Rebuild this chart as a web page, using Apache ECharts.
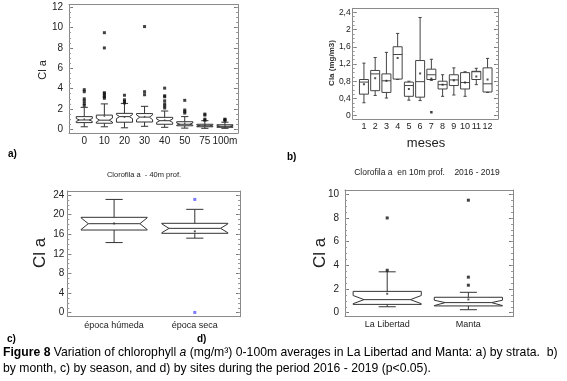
<!DOCTYPE html>
<html><head><meta charset="utf-8">
<script src="https://cdn.jsdelivr.net/npm/echarts@6/dist/echarts.min.js"></script>
<style>html,body{margin:0;padding:0;background:#fff}#c{width:567px;height:381px}</style>
</head><body><div id="c"></div><script>
const FONT = '"Liberation Sans", Arial, sans-serif';

// ---------- Panel a: by strata ----------
const aCategories = ['0', '10', '20', '30', '40', '50', '75', '100m'];
const aYTicks = [0, 2, 4, 6, 8, 10, 12];
const aMin = [0.25, 0.25, 0.15, 0.3, 0.2, 0.12, 0.1, 0.1];
const aQ1 = [0.66, 0.6, 0.7, 0.72, 0.5, 0.35, 0.25, 0.2];
const aMedian = [0.92, 0.9, 1.25, 1.2, 0.85, 0.5, 0.35, 0.3];
const aQ3 = [1.25, 1.4, 1.57, 1.55, 1.18, 0.75, 0.5, 0.45];
const aMax = [2.16, 2.5, 2.55, 2.26, 1.8, 1.25, 0.85, 0.7];
const aNotchLow = [0.78, 0.72, 1.05, 0.95, 0.68, 0.42, 0.3, 0.25];
const aNotchHigh = [1.06, 1.1, 1.45, 1.42, 1.02, 0.62, 0.42, 0.38];
const aMean = [1.0, 1.3, 1.2, 1.25, 0.9, 0.6, 0.4, 0.32];
const aOutliers = [
  [3.9, 3.7, 3.0, 2.8, 2.55, 2.35],
  [9.5, 8.0, 3.6, 3.5, 3.3, 3.2, 3.05],
  [3.35, 2.9, 2.75, 2.6],
  [10.1, 3.7, 3.4],
  [4.05, 3.3, 3.2, 2.8, 2.5, 2.3, 2.1],
  [2.85, 1.9, 1.75, 1.6],
  [1.5, 1.4, 1.0, 0.9],
  [1.0, 0.95, 0.85]
];

// ---------- Panel b: by month ----------
const bMonths = [1, 2, 3, 4, 5, 6, 7, 8, 9, 10, 11, 12];
const bYTicks = [0, 0.4, 0.8, 1.2, 1.6, 2, 2.4];
const bMin = [0.3, 0.47, 0.41, 0.84, 0.36, 0.35, 0.82, 0.45, 0.48, 0.45, 0.72, 0.54];
const bQ1 = [0.5, 0.58, 0.54, 0.85, 0.45, 0.43, 0.84, 0.62, 0.7, 0.62, 0.84, 0.55];
const bMedian = [0.78, 0.97, 0.81, 1.42, 0.7, 0.79, 0.95, 0.72, 0.83, 0.77, 1.02, 0.74];
const bQ3 = [0.84, 1.05, 0.97, 1.6, 0.78, 1.28, 1.08, 0.8, 0.95, 1.0, 1.03, 1.11];
const bMax = [1.22, 1.35, 1.47, 1.91, 0.8, 2.28, 1.31, 0.95, 1.11, 1.02, 1.1, 1.33];
const bMean = [0.73, 0.87, 0.81, 1.34, 0.62, 0.98, 0.86, 0.72, 0.82, 0.77, 0.91, 0.84];
const bOutlierMonths = [7];
const bOutlierValues = [0.08];

// ---------- Panel c: by season ----------
const cCategories = ['época húmeda', 'época seca'];
const cYTicks = [0, 4, 8, 12, 16, 20, 24];
const cMin = [14.3, 15.2];
const cQ1 = [16.86, 16.19];
const cMedian = [18.15, 17.2];
const cQ3 = [19.45, 18.23];
const cMax = [23.1, 21.08];
const cNotchLow = [16.95, 16.3];
const cNotchHigh = [19.35, 18.12];
const cMean = [18.2, 16.6];
const cOutliers = [[], [23.1, 0.05]];

// ---------- Panel d: by site ----------
const dCategories = ['La Libertad', 'Manta'];
const dYTicks = [0, 2, 4, 6, 8, 10];
const dMin = [0.5, 0.25];
const dQ1 = [0.7, 0.57];
const dMedian = [1.1, 0.85];
const dQ3 = [1.8, 1.3];
const dMax = [3.45, 1.72];
const dNotchLow = [0.76, 0.6];
const dNotchHigh = [1.45, 1.05];
const dMean = [1.6, 1.12];
const dOutliers = [[8.0, 3.58], [9.5, 3.0, 2.32]];

// ---------- helpers ----------
function boxRows(xs, mn, q1, md, q3, mx, nl, nh) {
  return xs.map((x, i) => [x, mn[i], q1[i], md[i], q3[i], mx[i], nl ? nl[i] : md[i], nh ? nh[i] : md[i]]);
}
function pointRows(xs, lists) {
  const out = [];
  lists.forEach((l, i) => l.forEach(v => out.push([xs[i], v])));
  return out;
}
function boxRenderer(cfg) {
  return function (params, api) {
    const x = api.value(0);
    const vMin = api.value(1), q1 = api.value(2), med = api.value(3), q3 = api.value(4), vMax = api.value(5);
    const nLo = api.value(6), nHi = api.value(7);
    const L = api.coord([x - cfg.half, med])[0];
    const R = api.coord([x + cfg.half, med])[0];
    const C = api.coord([x, med])[0];
    const y = v => api.coord([x, v])[1];
    const ind = (R - L) * cfg.indent;
    const capHalf = (R - L) * cfg.cap / 2;
    const pts = cfg.notch
      ? [[L, y(q3)], [R, y(q3)], [R, y(nHi)], [R - ind, y(med)], [R, y(nLo)], [R, y(q1)], [L, y(q1)], [L, y(nLo)], [L + ind, y(med)], [L, y(nHi)]]
      : [[L, y(q3)], [R, y(q3)], [R, y(q1)], [L, y(q1)]];
    const st = { stroke: cfg.color, lineWidth: 1, fill: 'none' };
    return {
      type: 'group',
      children: [
        { type: 'polygon', shape: { points: pts }, style: st },
        { type: 'line', shape: { x1: cfg.notch ? L + ind : L, y1: y(med), x2: cfg.notch ? R - ind : R, y2: y(med) }, style: st },
        { type: 'line', shape: { x1: C, y1: y(q3), x2: C, y2: y(vMax) }, style: st },
        { type: 'line', shape: { x1: C, y1: y(q1), x2: C, y2: y(vMin) }, style: st },
        { type: 'line', shape: { x1: C - capHalf, y1: y(vMax), x2: C + capHalf, y2: y(vMax) }, style: st },
        { type: 'line', shape: { x1: C - capHalf, y1: y(vMin), x2: C + capHalf, y2: y(vMin) }, style: st }
      ]
    };
  };
}
function minorList(lo, hi, step) {
  const r = [];
  for (let v = lo; v <= hi + 1e-9; v += step) r.push(+v.toFixed(4));
  return r;
}

const FRAME = { show: true, onZero: false, lineStyle: { color: '#8a8a8a', width: 1 } };
const NOFRAME = { show: false, onZero: false };

const grids = [
  { left: 69, top: 4.5, width: 169, height: 128.5 },
  { left: 352.7, top: 8.3, width: 145.3, height: 110.7 },
  { left: 67.3, top: 191, width: 172.7, height: 125.7 },
  { left: 345, top: 190, width: 168, height: 126.7 }
];

const yRanges = [[-0.36, 12.27], [-0.077, 2.493], [-0.82, 24.82], [-0.34, 10.36]];
const yTicks = [aYTicks, bYTicks, cYTicks, dYTicks];
const yMinorSteps = [0.5, 0.1, 1, 0.5];
const yLabelFmt = [v => String(v), v => String(v).replace('.', ','), v => String(v), v => String(v)];
const yLabelSize = [10, 8.5, 10, 10];
const yLabelMargin = [6, 2, 3, 6];

const yAxes = [];
for (let g = 0; g < 4; g++) {
  const base = { type: 'value', gridIndex: g, min: yRanges[g][0], max: yRanges[g][1], splitLine: { show: false } };
  const minors = minorList(0, yTicks[g][yTicks[g].length - 1], yMinorSteps[g]);
  yAxes.push(Object.assign({}, base, {
    position: 'left', axisLine: FRAME,
    axisTick: { show: true, inside: true, length: 4, customValues: yTicks[g], lineStyle: { color: '#777' } },
    axisLabel: { show: true, customValues: yTicks[g], formatter: yLabelFmt[g], fontSize: yLabelSize[g], fontFamily: FONT, color: '#222', margin: yLabelMargin[g] }
  }));
  yAxes.push(Object.assign({}, base, {
    position: 'right', axisLine: FRAME,
    axisTick: { show: true, inside: true, length: 4, customValues: yTicks[g], lineStyle: { color: '#777' } },
    axisLabel: { show: false }
  }));
  yAxes.push(Object.assign({}, base, {
    position: 'left', axisLine: NOFRAME,
    axisTick: { show: true, inside: true, length: 2, customValues: minors, lineStyle: { color: '#999' } },
    axisLabel: { show: false }
  }));
  yAxes.push(Object.assign({}, base, {
    position: 'right', axisLine: NOFRAME,
    axisTick: { show: true, inside: true, length: 2, customValues: minors, lineStyle: { color: '#999' } },
    axisLabel: { show: false }
  }));
}

const aIdx = aCategories.map((c, i) => i);
const cIdx = [1, 2];
const dIdx = [1, 2];
const xDefs = [
  { gridIndex: 0, min: -0.76, max: 7.65, custom: aIdx, fmt: v => aCategories[Math.round(v)], size: 10, margin: 3 },
  { gridIndex: 1, min: 0, max: 12.93, custom: bMonths, fmt: v => String(v), size: 9, margin: 3 },
  { gridIndex: 2, min: 0.42, max: 2.56, custom: cIdx, fmt: v => cCategories[Math.round(v) - 1], size: 9, margin: 4 },
  { gridIndex: 3, min: 0.48, max: 2.55, custom: dIdx, fmt: v => dCategories[Math.round(v) - 1], size: 9, margin: 3 }
];
const xAxes = [];
xDefs.forEach(a => {
  xAxes.push({
    type: 'value', gridIndex: a.gridIndex, min: a.min, max: a.max, position: 'bottom',
    splitLine: { show: false }, axisLine: FRAME, axisTick: { show: false },
    axisLabel: { customValues: a.custom, formatter: a.fmt, fontSize: a.size, fontFamily: FONT, color: '#222', margin: a.margin }
  });
});
xDefs.forEach(a => {
  xAxes.push({
    type: 'value', gridIndex: a.gridIndex, min: a.min, max: a.max, position: 'top',
    splitLine: { show: false }, axisLine: FRAME, axisTick: { show: false }, axisLabel: { show: false }
  });
});

function boxSeries(g, rows, cfg) {
  return {
    type: 'custom', xAxisIndex: g, yAxisIndex: g * 4, data: rows,
    encode: { x: 0, y: [1, 2, 3, 4, 5] }, renderItem: boxRenderer(cfg), silent: true, z: 2
  };
}
function dotSeries(g, rows, size, color, z) {
  return {
    type: 'scatter', xAxisIndex: g, yAxisIndex: g * 4, data: rows, symbol: 'rect', symbolSize: size,
    itemStyle: { color: color }, silent: true, z: z || 3
  };
}

const series = [
  boxSeries(0, boxRows(aIdx, aMin, aQ1, aMedian, aQ3, aMax, aNotchLow, aNotchHigh), { half: 0.4, indent: 0.2, cap: 0.45, notch: true, color: '#333' }),
  dotSeries(0, aIdx.map((x, i) => [x, aMean[i]]), 1.5, '#333'),
  dotSeries(0, pointRows(aIdx, aOutliers), 3, '#111'),

  boxSeries(1, boxRows(bMonths, bMin, bQ1, bMedian, bQ3, bMax), { half: 0.4, indent: 0, cap: 0.35, notch: false, color: '#444' }),
  dotSeries(1, bMonths.map((x, i) => [x, bMean[i]]), 2, '#222'),
  dotSeries(1, bOutlierMonths.map((x, i) => [x, bOutlierValues[i]]), 2.5, '#111'),

  boxSeries(2, boxRows(cIdx, cMin, cQ1, cMedian, cQ3, cMax, cNotchLow, cNotchHigh), { half: 0.41, indent: 0.11, cap: 0.26, notch: true, color: '#333' }),
  dotSeries(2, cIdx.map((x, i) => [x, cMean[i]]), 2, '#333'),
  dotSeries(2, pointRows(cIdx, cOutliers), 3, '#5a5aff'),

  boxSeries(3, boxRows(dIdx, dMin, dQ1, dMedian, dQ3, dMax, dNotchLow, dNotchHigh), { half: 0.42, indent: 0.16, cap: 0.25, notch: true, color: '#333' }),
  dotSeries(3, dIdx.map((x, i) => [x, dMean[i]]), 2, '#333'),
  dotSeries(3, pointRows(dIdx, dOutliers), 3, '#111')
];

function txt(x, y, text, size, opts) {
  return {
    type: 'text', x: x, y: y, rotation: (opts && opts.rot) || 0, silent: true,
    style: Object.assign({ text: text, fontSize: size, fontFamily: FONT, fill: '#222', align: 'center', verticalAlign: 'middle' }, (opts && opts.style) || {})
  };
}
const ROT = Math.PI / 2;
const graphics = [
  txt(43, 70, 'Cl a', 11, { rot: ROT }),
  txt(332, 63, 'Cla (mg/m3)', 8, { rot: ROT, style: { fontWeight: 'bold', fill: '#333' } }),
  txt(426, 143, 'meses', 13),
  txt(40, 253, 'Cl a', 17, { rot: ROT }),
  txt(320, 253, 'Cl a', 17, { rot: ROT }),
  txt(144, 175, 'Clorofila a  - 40m prof.', 7.5),
  txt(427, 173, 'Clorofila a  en 10m prof.    2016 - 2019', 8.5),
  txt(8, 154, 'a)', 10, { style: { align: 'left', fontWeight: 'bold', fill: '#000' } }),
  txt(287, 157, 'b)', 10, { style: { align: 'left', fontWeight: 'bold', fill: '#000' } }),
  txt(7, 339, 'c)', 10, { style: { align: 'left', fontWeight: 'bold', fill: '#000' } }),
  txt(197, 339, 'd)', 10, { style: { align: 'left', fontWeight: 'bold', fill: '#000' } }),
  {
    type: 'text', x: 3, y: 345, silent: true,
    style: {
      text: '{b|Figure 8} Variation of chlorophyll {i|a} (mg/m³) 0-100m averages in La Libertad and Manta: a) by strata.  b)\nby month, c) by season, and d) by sites during the period 2016 - 2019 (p<0.05).',
      fontSize: 12.2, fontFamily: FONT, fill: '#000', align: 'left', verticalAlign: 'top', lineHeight: 15.5,
      rich: {
        b: { fontWeight: 'bold', fontSize: 12.2, fontFamily: FONT, fill: '#000', lineHeight: 15.5 },
        i: { fontStyle: 'italic', fontSize: 12.2, fontFamily: FONT, fill: '#000', lineHeight: 15.5 }
      }
    }
  }
];

const chart = echarts.init(document.getElementById('c'), null, { renderer: 'canvas' });
chart.setOption({
  animation: false,
  backgroundColor: '#fff',
  grid: grids,
  xAxis: xAxes,
  yAxis: yAxes,
  series: series,
  graphic: graphics
});
</script></body></html>
